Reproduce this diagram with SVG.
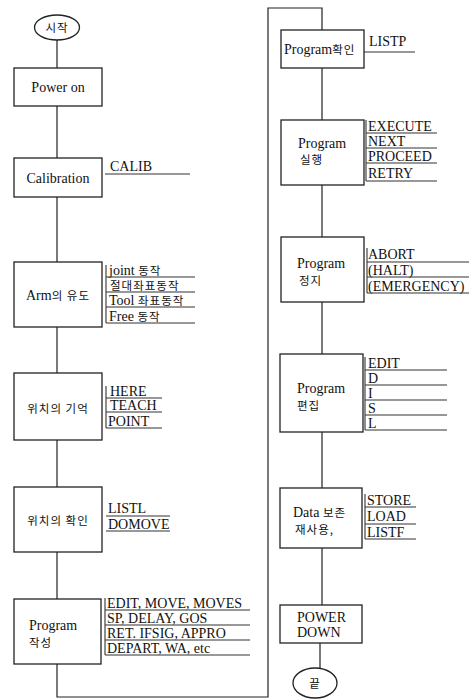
<svg xmlns="http://www.w3.org/2000/svg" width="474" height="700" viewBox="0 0 474 700">
<style>
.box{fill:#fff;stroke:#222;stroke-width:1.3}
.ln{fill:none;stroke:#222;stroke-width:1.2}
.ul{stroke:#333;stroke-width:1.1}
.bx{font-family:"Liberation Serif","Times New Roman","Noto Sans CJK KR",serif;font-size:14px;fill:#111}
.k{font-family:"Noto Sans CJK KR",sans-serif;font-size:11.5px;fill:#111;letter-spacing:1px}
.l{font-family:"Liberation Serif","Times New Roman","Noto Sans CJK KR",serif;font-size:14px;fill:#111}
.c{text-anchor:middle}
</style>
<rect width="474" height="700" fill="#fff"/>
<g id="connectors" class="ln">
<path d="M57 40V68M57 106V158M57 197V262M57 327V373M57 440V487M57 552V599"/>
<path d="M57 664V697H268V8H322V30"/>
<path d="M322 68V120M322 185V237M322 302V354M322 432V488M322 548V605M320 643V668"/>
</g>
<g id="start"><ellipse cx="57" cy="27.5" rx="22.5" ry="12.5" class="box"/><text x="57" y="32" class="k c">시작</text></g>
<g id="power-on"><rect x="14" y="68" width="88" height="38" class="box"/><text x="58" y="92" class="bx c" font-family="Liberation Serif, serif">Power on</text></g>
<g id="calibration"><rect x="14" y="158" width="88" height="39" class="box"/><text x="58" y="183" class="bx c" font-family="Liberation Serif, serif">Calibration</text>
<text x="110" y="171" class="l">CALIB</text><line x1="105" y1="174" x2="190" y2="174" class="ul"/></g>
<g id="arm"><rect x="14" y="262" width="88" height="65" class="box"/><text x="58" y="300" class="bx c" font-family="Liberation Serif, serif">Arm<tspan class="k" font-size="11">의 유도</tspan></text>
<text x="109" y="275" class="l">joint <tspan class="k">동작</tspan></text>
<text x="110" y="290" class="k">절대좌표동작</text>
<text x="109" y="305" class="l">Tool <tspan class="k">좌표동작</tspan></text>
<text x="109" y="321" class="l">Free <tspan class="k">동작</tspan></text>
<path d="M106 277H195M106 292H195M106 307H195M106 323H195M106 265V323" class="ul"/></g>
<g id="pos-memory"><rect x="14" y="373" width="88" height="67" class="box"/><text x="58" y="413" class="k c">위치의 기억</text>
<text x="110" y="396" class="l" font-size="13">HERE</text><text x="110" y="410" class="l" font-size="13">TEACH</text><text x="108" y="426" class="l" font-size="13">POINT</text>
<path d="M106 398H162M106 412H162M106 428H162M106 386V428" class="ul"/></g>
<g id="pos-check"><rect x="14" y="487" width="88" height="65" class="box"/><text x="58" y="525" class="k c">위치의 확인</text>
<text x="108" y="513" class="l">LISTL</text><text x="108" y="529" class="l">DOMOVE</text>
<path d="M106 516H170M106 531H170" class="ul"/></g>
<g id="program-write"><rect x="14" y="599" width="87" height="65" class="box"/><text x="29" y="630" class="bx" font-family="Liberation Serif, serif">Program</text><text x="29" y="647" class="k">작성</text>
<text x="107" y="608" class="l">EDIT, MOVE, MOVES</text><text x="107" y="623" class="l">SP, DELAY, GOS</text>
<text x="107" y="638" class="l">RET. IFSIG, APPRO</text><text x="107" y="653" class="l">DEPART, WA, etc</text>
<path d="M105 610H250M105 625H250M105 640H250M105 655H250M105 598V655" class="ul"/></g>
<g id="program-check"><rect x="281" y="30" width="83" height="38" class="box"/><text x="284" y="54" class="bx" font-family="Liberation Serif, serif">Program<tspan class="k" font-size="11">확인</tspan></text>
<text x="369" y="46" class="l">LISTP</text><line x1="364" y1="52" x2="415" y2="52" class="ul"/></g>
<g id="program-run"><rect x="281" y="120" width="83" height="65" class="box"/><text x="298" y="148" class="bx" font-family="Liberation Serif, serif">Program</text><text x="300" y="164" class="k">실행</text>
<text x="368" y="131" class="l">EXECUTE</text><text x="368" y="146" class="l">NEXT</text><text x="368" y="161" class="l">PROCEED</text><text x="368" y="178" class="l">RETRY</text>
<path d="M366 133H437M366 148H437M366 163H437M366 181H437M366 120V181" class="ul"/></g>
<g id="program-stop"><rect x="281" y="237" width="83" height="65" class="box"/><text x="297" y="268" class="bx" font-family="Liberation Serif, serif">Program</text><text x="299" y="285" class="k">정지</text>
<text x="368" y="259" class="l">ABORT</text><text x="368" y="275" class="l">(HALT)</text><text x="368" y="291" class="l">(EMERGENCY)</text>
<path d="M367 262H469M367 277H469M367 293H469M367 248V293" class="ul"/></g>
<g id="program-edit"><rect x="280" y="354" width="83" height="78" class="box"/><text x="297" y="393" class="bx" font-family="Liberation Serif, serif">Program</text><text x="297" y="410" class="k">편집</text>
<text x="368" y="368" class="l">EDIT</text><text x="368" y="383" class="l">D</text><text x="368" y="398" class="l">I</text><text x="368" y="413" class="l">S</text><text x="368" y="428" class="l">L</text>
<path d="M365 370H447M365 385H447M365 400H447M365 415H447M365 430H447M365 357V430" class="ul"/></g>
<g id="data-save"><rect x="280" y="488" width="82" height="60" class="box"/><text x="293" y="517" class="bx" font-family="Liberation Serif, serif">Data <tspan class="k" font-size="11">보존</tspan></text><text x="295" y="534" class="k">재사용,</text>
<text x="367" y="505" class="l">STORE</text><text x="367" y="521" class="l">LOAD</text><text x="367" y="537" class="l">LISTF</text>
<path d="M365 507H416M365 524H416M365 539H416M365 494V539" class="ul"/></g>
<g id="power-down"><rect x="280" y="605" width="82" height="38" class="box"/><text x="297" y="622" class="bx" font-family="Liberation Serif, serif">POWER</text><text x="297" y="637" class="bx" font-family="Liberation Serif, serif">DOWN</text></g>
<g id="end"><ellipse cx="315" cy="683" rx="22" ry="15" class="box"/><text x="315" y="688" class="k c">끝</text></g>
</svg>
